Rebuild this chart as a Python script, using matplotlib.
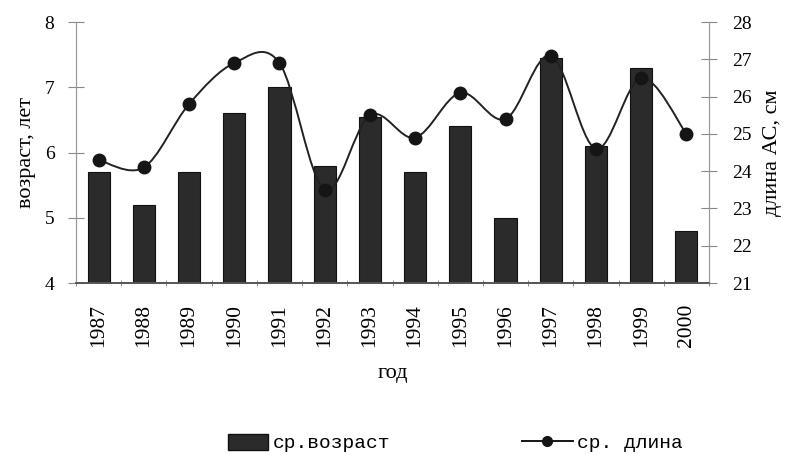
import matplotlib
matplotlib.use("Agg")
import matplotlib.pyplot as plt
import numpy as np
from matplotlib.path import Path
from matplotlib.patches import PathPatch, Patch
from matplotlib.lines import Line2D

years = ["1987", "1988", "1989", "1990", "1991", "1992", "1993",
         "1994", "1995", "1996", "1997", "1998", "1999", "2000"]
age = [5.7, 5.2, 5.7, 6.6, 7.0, 5.8, 6.55, 5.7, 6.4, 5.0, 7.45, 6.1, 7.3, 4.8]
length = [24.3, 24.1, 25.8, 26.9, 26.9, 23.5, 25.5, 24.9, 26.1, 25.4, 27.1, 24.6, 26.5, 25.0]

serif = "Liberation Serif"
mono = "Liberation Mono"

fig = plt.figure(figsize=(7.9, 4.55), dpi=100)
ax = fig.add_axes([0.0962, 0.378, 0.8013, 0.5736])
ax2 = ax.twinx()

x = np.arange(len(years))
ax.bar(x, age, width=0.49, color="#2b2b2b", edgecolor="#111111", linewidth=0.8, zorder=2)
ax.set_ylim(4, 8)
ax.set_xlim(-0.5, len(years) - 0.5)
ax.set_yticks([4, 5, 6, 7, 8])
ax.set_xticks(x)
ax.set_xticklabels(years, rotation=90, fontfamily=serif, fontsize=15.5)
ax.set_xticks(np.arange(-0.5, len(years), 1.0), minor=True)
ax.tick_params(axis="x", which="major", length=0, pad=15)
ax.tick_params(axis="x", which="minor", length=5, direction="inout", color="#777777")
ax.tick_params(axis="y", direction="inout", length=11, color="#888888", labelsize=14, pad=10)
for lab in ax.get_yticklabels():
    lab.set_fontfamily(serif)
ax.set_ylabel("возраст, лет", fontfamily=serif, fontsize=16, labelpad=6)
ax.set_xlabel("год", fontfamily=serif, fontsize=16, labelpad=12)

# smooth curve (Bezier through data points, Excel-style)
ax2.set_ylim(21, 28)
pts = np.column_stack([x, length]).astype(float)
verts = [tuple(pts[0])]
codes = [Path.MOVETO]
n = len(pts)
for i in range(n - 1):
    p0 = pts[i - 1] if i > 0 else pts[i]
    p1 = pts[i]
    p2 = pts[i + 1]
    p3 = pts[i + 2] if i + 2 < n else pts[i + 1]
    c1 = p1 + (p2 - p0) / 6.0
    c2 = p2 - (p3 - p1) / 6.0
    verts += [tuple(c1), tuple(c2), tuple(p2)]
    codes += [Path.CURVE4, Path.CURVE4, Path.CURVE4]
ax2.add_patch(PathPatch(Path(verts, codes), facecolor="none", edgecolor="#222222", linewidth=1.4, zorder=3))
ax2.plot(x, length, linestyle="none", marker="o", markersize=9, color="#151515", zorder=4)
ax2.set_yticks(range(21, 29))
ax2.tick_params(axis="y", direction="inout", length=11, color="#888888", labelsize=14, pad=11)
for lab in ax2.get_yticklabels():
    lab.set_fontfamily(serif)
ax2.set_ylabel("длина АС, см", fontfamily=serif, fontsize=16, labelpad=8)

for a in (ax, ax2):
    a.spines["top"].set_visible(False)
    a.spines["left"].set_color("#999999")
    a.spines["right"].set_color("#999999")
    a.spines["bottom"].set_color("#555555")
    a.spines["bottom"].set_linewidth(1.2)
ax.set_zorder(ax2.get_zorder() - 1)
ax2.patch.set_visible(False)

W, H = 790.0, 455.0
leg1 = fig.legend([Patch(facecolor="#2b2b2b", edgecolor="#111111")], ["ср.возраст"],
                  loc="center left", bbox_to_anchor=(228 / W, 1 - 443 / H),
                  frameon=False, prop={"family": mono, "size": 14},
                  handlelength=2.05, handleheight=0.9, handletextpad=0.25,
                  borderpad=0, borderaxespad=0)
leg2 = fig.legend([Line2D([0], [0], color="#151515", marker="o", markersize=7, linewidth=1.4)],
                  ["ср. длина"], loc="center left", bbox_to_anchor=(522 / W, 1 - 443 / H),
                  frameon=False, prop={"family": mono, "size": 14},
                  handlelength=2.6, handletextpad=0.25, borderpad=0, borderaxespad=0)

fig.savefig("out.png", dpi=100)
